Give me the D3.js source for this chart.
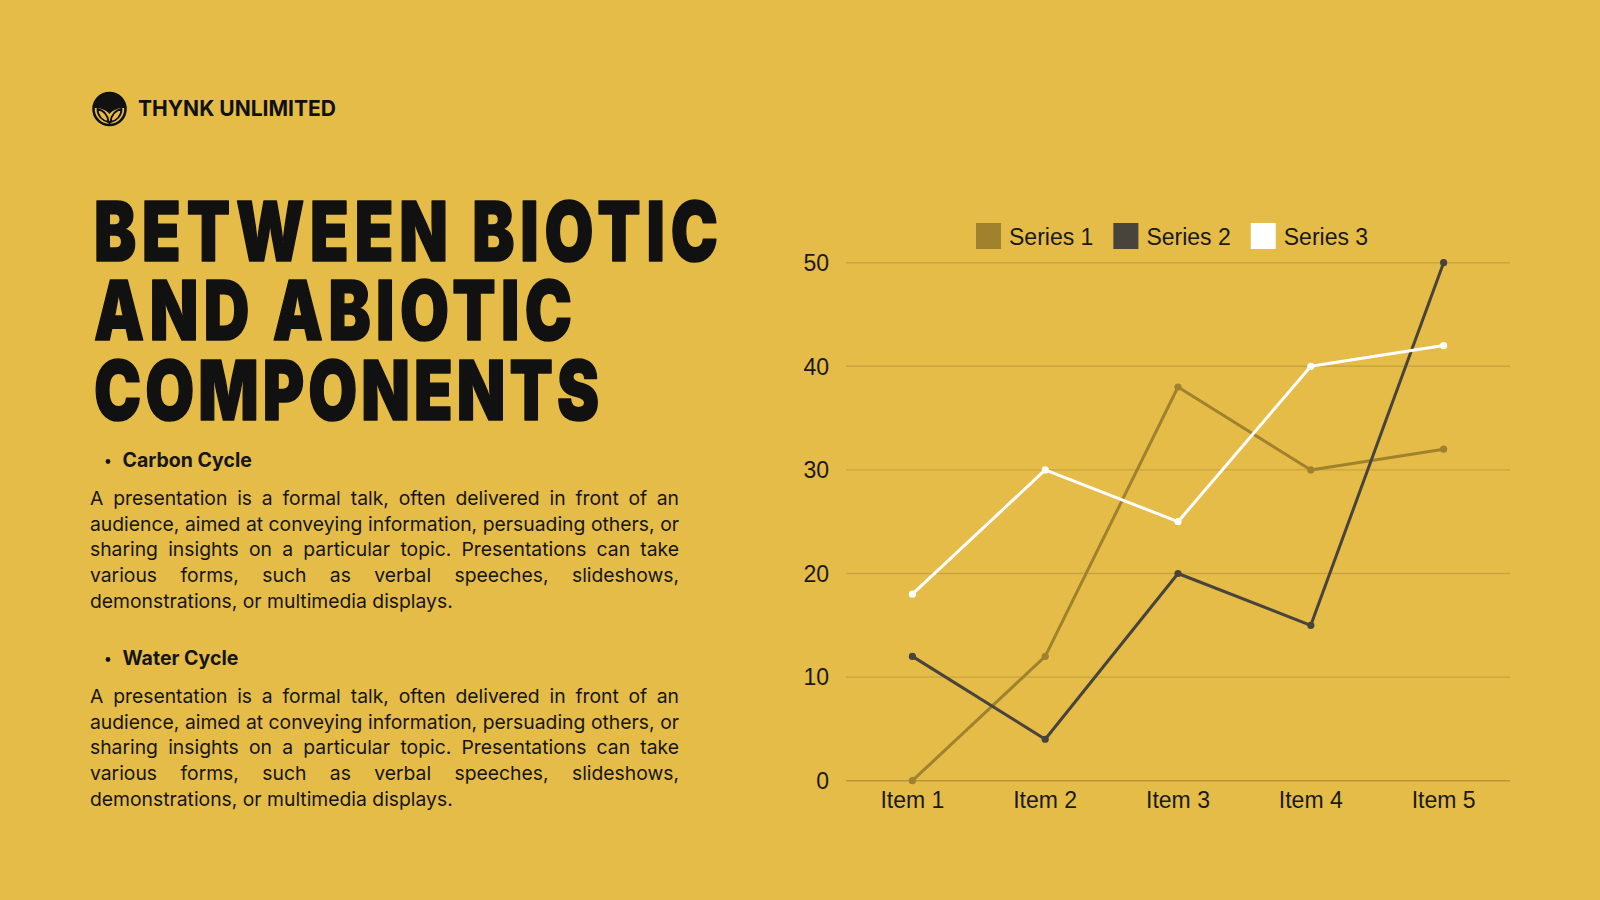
<!DOCTYPE html>
<html>
<head>
<meta charset="utf-8">
<script src="https://cdn.jsdelivr.net/npm/d3@7"></script>
<style>
  body { margin: 0; background: #E5BC48; }
  svg { display: block; }
</style>
</head>
<body>
<div id="chart"></div>
<script>
// chart data
const categories = ["Item 1", "Item 2", "Item 3", "Item 4", "Item 5"];
const series1 = [0, 12, 38, 30, 32];
const series2 = [12, 4, 20, 15, 50];
const series3 = [18, 30, 25, 40, 42];
const seriesNames = ["Series 1", "Series 2", "Series 3"];
const seriesColors = ["#A0822E", "#48443C", "#FFFFFF"];
const yTicks = [0, 10, 20, 30, 40, 50];

// slide text
const brand = "THYNK UNLIMITED";
const titleLines = ["BETWEEN BIOTIC", "AND ABIOTIC", "COMPONENTS"];
const headings = ["Carbon Cycle", "Water Cycle"];
const paragraphLines = [
  "A presentation is a formal talk, often delivered in front of an",
  "audience, aimed at conveying information, persuading others, or",
  "sharing insights on a particular topic. Presentations can take",
  "various forms, such as verbal speeches, slideshows,",
  "demonstrations, or multimedia displays."
];

const W = 1600, H = 900;
const bg = "#E5BC48", ink = "#111111";

const svg = d3.select("#chart").append("svg")
    .attr("width", W)
    .attr("height", H);

svg.append("rect").attr("width", W).attr("height", H).attr("fill", bg);

// ---- logo ----
const logo = svg.append("g").attr("transform", "translate(109.5,109)");
logo.append("circle").attr("r", 16).attr("fill", "none").attr("stroke", ink).attr("stroke-width", 2.6);
logo.append("path")
    .attr("d", "M-15.5,-1 A15.5,15.5 0 0 1 15.5,-1 C10,-1 4,0 0,5 C-4,0 -10,-1 -15.5,-1 Z")
    .attr("fill", ink);
logo.append("path")
    .attr("d", "M-1,13 C-2,5 -7,1 -12,0 C-12,7 -7,12 -1,13 Z M1,13 C2,5 7,1 12,0 C12,7 7,12 1,13 Z")
    .attr("fill", "none").attr("stroke", ink).attr("stroke-width", 1.8).attr("stroke-linejoin", "round");
logo.append("path").attr("d", "M0,16 L0,12").attr("stroke", ink).attr("stroke-width", 1.8);

svg.append("text")
    .attr("x", 138).attr("y", 115.7)
    .attr("font-family", "Inter, 'Noto Sans', sans-serif")
    .attr("font-weight", 700)
    .attr("font-size", 21.5)
    .attr("fill", ink)
    .attr("textLength", 198)
    .attr("lengthAdjust", "spacingAndGlyphs")
    .text(brand);

// ---- title: one text block, heavy face squeezed, tracking fitted per line ----
const titleWidths = [624, 478, 505];
const squeeze = 0.77;
const title = svg.append("text")
    .attr("transform", `translate(94,0) scale(${squeeze},1)`)
    .attr("font-family", "Inter, 'DejaVu Sans', sans-serif")
    .attr("font-weight", 900)
    .attr("font-size", 82)
    .attr("fill", ink)
    .attr("stroke", ink)
    .attr("stroke-width", 1.6)
    .attr("stroke-linejoin", "round");
titleLines.forEach((t, i) => {
  const ts = title.append("tspan").attr("x", 0).attr("y", 261 + i * 79.3).text(t);
  const natural = ts.node().getComputedTextLength();
  const ls = (titleWidths[i] / squeeze - natural) / (t.length - 1);
  ts.attr("letter-spacing", ls);
});

// ---- body text ----
const bodyFont = "Inter, 'Noto Sans', sans-serif";
const probe = svg.append("text").attr("font-family", bodyFont).attr("font-size", 20)
    .text(paragraphLines[paragraphLines.length - 1]);
const bodySize = 20 * 363 / probe.node().getComputedTextLength();
probe.remove();

function justified(g, lines, x, y0, width, pitch) {
  lines.forEach((line, i) => {
    const t = g.append("text").attr("y", y0 + i * pitch);
    if (i === lines.length - 1) { t.attr("x", x).text(line); return; }
    const words = line.split(" ");
    const spans = words.map(w => t.append("tspan").text(w));
    const widths = spans.map(s => s.node().getComputedTextLength());
    const gap = (width - d3.sum(widths)) / (words.length - 1);
    let cx = x;
    spans.forEach((s, j) => { s.attr("x", cx); cx += widths[j] + gap; });
  });
}

const blockTops = [467, 665];
headings.forEach((h, k) => {
  const g = svg.append("g").attr("fill", "#161616");
  g.append("circle").attr("cx", 108).attr("cy", blockTops[k] - 5.5).attr("r", 2.4);
  g.append("text")
      .attr("x", 122.5).attr("y", blockTops[k])
      .attr("font-family", bodyFont).attr("font-weight", 700)
      .attr("font-size", 19.5)
      .text(h);
  const p = g.append("g").attr("font-family", bodyFont).attr("font-size", bodySize);
  justified(p, paragraphLines, 90, blockTops[k] + 38, 589, 25.7);
});

// ---- chart ----
const plot = { left: 846, right: 1510, top: 262.7, bottom: 780.7 };

const x = d3.scalePoint()
    .domain(categories)
    .range([plot.left, plot.right])
    .padding(0.5);

const y = d3.scaleLinear()
    .domain([0, 50])
    .range([plot.bottom, plot.top]);

const chartFont = "'Liberation Sans', Arial, sans-serif";

// grid
svg.append("g").selectAll("line")
  .data(yTicks)
  .join("line")
    .attr("x1", plot.left).attr("x2", plot.right)
    .attr("y1", d => y(d)).attr("y2", d => y(d))
    .attr("stroke", d => d === 0 ? "#B8943A" : "#C9A440")
    .attr("stroke-width", 1.4);

// y labels
svg.append("g").selectAll("text")
  .data(yTicks)
  .join("text")
    .attr("x", 829)
    .attr("y", d => y(d))
    .attr("dy", "0.36em")
    .attr("text-anchor", "end")
    .attr("font-family", chartFont)
    .attr("font-size", 23)
    .attr("fill", "#1a1a1a")
    .text(d => d);

// x labels
svg.append("g").selectAll("text")
  .data(categories)
  .join("text")
    .attr("x", d => x(d))
    .attr("y", 808.3)
    .attr("text-anchor", "middle")
    .attr("font-family", chartFont)
    .attr("font-size", 23)
    .attr("fill", "#1a1a1a")
    .text(d => d);

// lines
const allSeries = [series1, series2, series3];
const line = d3.line()
    .x((d, i) => x(categories[i]))
    .y(d => y(d));

allSeries.forEach((vals, s) => {
  const g = svg.append("g");
  g.append("path")
      .attr("d", line(vals))
      .attr("fill", "none")
      .attr("stroke", seriesColors[s])
      .attr("stroke-width", 3)
      .attr("stroke-linejoin", "round");
  g.selectAll("circle")
    .data(vals)
    .join("circle")
      .attr("cx", (d, i) => x(categories[i]))
      .attr("cy", d => y(d))
      .attr("r", 3.6)
      .attr("fill", seriesColors[s]);
});

// legend
const legend = svg.append("g").attr("font-family", chartFont).attr("font-size", 23).attr("fill", "#1a1a1a");
let lx = 976;
seriesNames.forEach((name, s) => {
  legend.append("rect")
      .attr("x", lx).attr("y", 223)
      .attr("width", 25).attr("height", 26)
      .attr("fill", seriesColors[s]);
  const t = legend.append("text").attr("x", lx + 33).attr("y", 245).text(name);
  lx += 33 + t.node().getComputedTextLength() + 20;
});
</script>
</body>
</html>
